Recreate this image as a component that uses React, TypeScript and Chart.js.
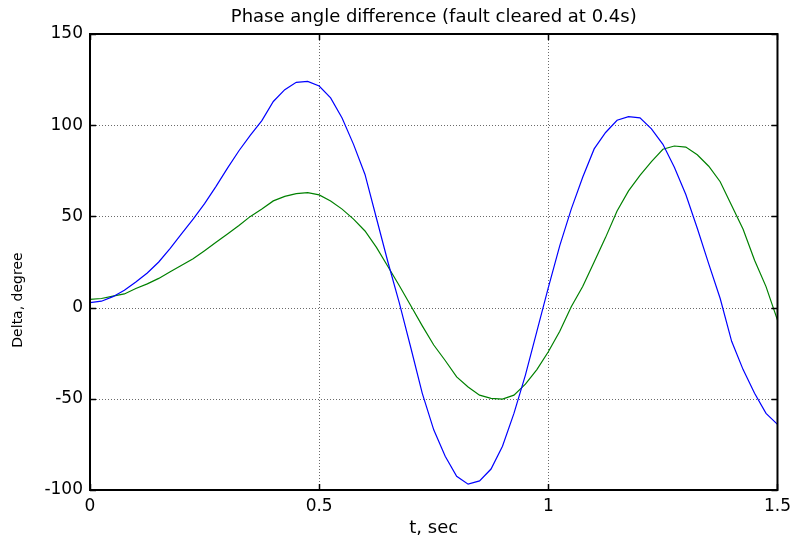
import React, { useEffect, useRef } from "react";
import { Chart, registerables } from "chart.js";

Chart.register(...registerables);

const chartTitle = "Phase angle difference (fault cleared at 0.4s)";
const xAxisTitle = "t, sec";
const yAxisTitle = "Delta, degree";

const tValues = [
  0, 0.025, 0.05, 0.075, 0.1, 0.125, 0.15, 0.175, 0.2, 0.225,
  0.25, 0.275, 0.3, 0.325, 0.35, 0.375, 0.4, 0.425, 0.45, 0.475,
  0.5, 0.525, 0.55, 0.575, 0.6, 0.625, 0.65, 0.675, 0.7, 0.725,
  0.75, 0.775, 0.8, 0.825, 0.85, 0.875, 0.9, 0.925, 0.95, 0.975,
  1.0, 1.025, 1.05, 1.075, 1.1, 1.125, 1.15, 1.175, 1.2, 1.225,
  1.25, 1.275, 1.3, 1.325, 1.35, 1.375, 1.4, 1.425, 1.45, 1.475, 1.5,
];

const blueDelta = [
  2.7, 3.5, 6, 9.5, 14, 19, 25, 32.5, 40.5, 48.5,
  57, 66.5, 76.5, 86, 94.5, 102.5, 113, 119.5, 123.5, 124,
  121.5, 115, 104, 89.5, 73, 49, 25, 2.5, -22, -47,
  -67, -81.5, -92.5, -96.8, -95, -88.5, -76, -58, -37, -13,
  11, 34, 54, 71.5, 87, 96, 102.7, 104.7, 104, 98,
  89.5, 77, 62, 43.5, 24, 5, -18.5, -34, -47, -58, -64,
];

const greenDelta = [
  4.5, 5, 6.3, 7.5, 10.5, 13, 16, 19.6, 23.2, 26.8,
  31.2, 35.8, 40.3, 45, 50, 54, 58.5, 61, 62.5, 63,
  61.8, 58.5, 54, 48.5, 42, 33, 22.5, 12, 1, -10,
  -20.5, -29, -38, -43.5, -48, -49.8, -50.2, -48, -42, -34,
  -24.2, -13, 0.5, 11.6, 25, 38.5, 53, 64, 72.5, 80,
  86.8, 88.6, 88, 83.8, 77.5, 69, 56, 43, 26, 11.5, -6.8,
];

const xTickValues = [0, 0.5, 1, 1.5];
const xTickLabels = ["0", "0.5", "1", "1.5"];
const yTickValues = [-100, -50, 0, 50, 100, 150];
const yTickLabels = ["-100", "-50", "0", "50", "100", "150"];

const FONT = '"DejaVu Sans", sans-serif';

const decorPlugin = {
  id: "decor",
  beforeDatasetsDraw(chart: any) {
    const { ctx, chartArea: a, scales } = chart;
    const x = scales.x;
    const y = scales.y;
    ctx.save();
    ctx.strokeStyle = "#6a6a6a";
    ctx.lineWidth = 1;
    ctx.setLineDash([1, 2]);
    xTickValues.forEach((v, i) => {
      if (i === 0 || i === xTickValues.length - 1) return;
      const px = Math.round(x.getPixelForValue(v)) + 0.5;
      ctx.beginPath();
      ctx.moveTo(px, a.top);
      ctx.lineTo(px, a.bottom);
      ctx.stroke();
    });
    yTickValues.forEach((v, i) => {
      if (i === 0 || i === yTickValues.length - 1) return;
      const py = Math.round(y.getPixelForValue(v)) + 0.5;
      ctx.beginPath();
      ctx.moveTo(a.left, py);
      ctx.lineTo(a.right, py);
      ctx.stroke();
    });
    ctx.restore();
  },
  afterDraw(chart: any) {
    const { ctx, chartArea: a, scales } = chart;
    const x = scales.x;
    const y = scales.y;
    ctx.save();
    ctx.setLineDash([]);
    ctx.strokeStyle = "#000";
    // inward tick marks
    ctx.lineWidth = 1.5;
    const tl = 6;
    xTickValues.forEach((v) => {
      const px = Math.round(x.getPixelForValue(v)) + 0.5;
      ctx.beginPath();
      ctx.moveTo(px, a.bottom);
      ctx.lineTo(px, a.bottom - tl);
      ctx.moveTo(px, a.top);
      ctx.lineTo(px, a.top + tl);
      ctx.stroke();
    });
    yTickValues.forEach((v) => {
      const py = Math.round(y.getPixelForValue(v)) + 0.5;
      ctx.beginPath();
      ctx.moveTo(a.left, py);
      ctx.lineTo(a.left + tl, py);
      ctx.moveTo(a.right, py);
      ctx.lineTo(a.right - tl, py);
      ctx.stroke();
    });
    // box
    ctx.lineWidth = 2;
    ctx.strokeRect(a.left, a.top, a.right - a.left, a.bottom - a.top);
    // texts
    ctx.fillStyle = "#000";
    ctx.textAlign = "center";
    ctx.textBaseline = "alphabetic";
    const cx = (a.left + a.right) / 2;
    ctx.font = `18px ${FONT}`;
    ctx.fillText(chartTitle, cx, 22);
    ctx.fillText(xAxisTitle, cx, 533);
    ctx.save();
    ctx.font = `14px ${FONT}`;
    ctx.translate(22, 300);
    ctx.rotate(-Math.PI / 2);
    ctx.fillText(yAxisTitle, 0, 0);
    ctx.restore();
    ctx.restore();
  },
};

export default function App() {
  const ref = useRef<HTMLCanvasElement | null>(null);
  useEffect(() => {
    document.body.style.margin = "0";
    const canvas = ref.current;
    if (!canvas) return;
    const chart = new Chart(canvas, {
      type: "line",
      data: {
        datasets: [
          {
            data: tValues.map((t, i) => ({ x: t, y: blueDelta[i] })),
            borderColor: "#0000ff",
            borderWidth: 1.2,
            pointRadius: 0,
            tension: 0,
            fill: false,
          },
          {
            data: tValues.map((t, i) => ({ x: t, y: greenDelta[i] })),
            borderColor: "#008000",
            borderWidth: 1.2,
            pointRadius: 0,
            tension: 0,
            fill: false,
          },
        ],
      },
      options: {
        animation: false,
        responsive: false,
        events: [],
        layout: { padding: { top: 34, right: 16, left: 0, bottom: 0 } },
        plugins: { legend: { display: false }, tooltip: { enabled: false }, title: { display: false } },
        scales: {
          x: {
            type: "linear",
            min: 0,
            max: 1.5,
            grid: { display: false, drawTicks: false },
            border: { display: false },
            ticks: {
              stepSize: 0.5,
              color: "#000",
              padding: 6,
              maxRotation: 0,
              font: { family: FONT, size: 17 },
              callback: (v: any) => {
                const i = xTickValues.indexOf(Number(v));
                return i >= 0 ? xTickLabels[i] : "";
              },
            },
            afterFit: (s: any) => {
              s.height = 52;
            },
          },
          y: {
            type: "linear",
            min: -100,
            max: 150,
            grid: { display: false, drawTicks: false },
            border: { display: false },
            ticks: {
              stepSize: 50,
              color: "#000",
              padding: 7,
              font: { family: FONT, size: 17 },
              callback: (v: any) => {
                const i = yTickValues.indexOf(Number(v));
                return i >= 0 ? yTickLabels[i] : "";
              },
            },
            afterFit: (s: any) => {
              s.width = 90;
            },
          },
        },
      },
      plugins: [decorPlugin],
    } as any);
    return () => chart.destroy();
  }, []);
  return (
    <div style={{ position: "absolute", left: 0, top: 0, width: 797, height: 542, background: "#fff" }}>
      <canvas ref={ref} width={797} height={542} />
    </div>
  );
}
